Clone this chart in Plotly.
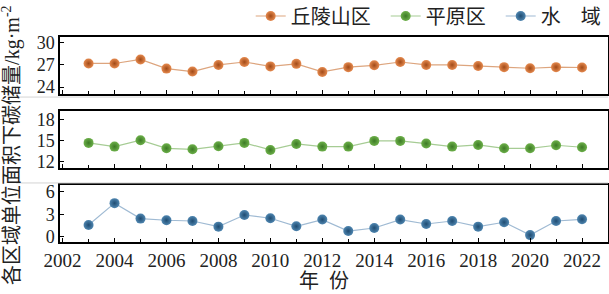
import plotly.graph_objects as go

years = list(range(2003, 2023))
hilly = [27.2, 27.2, 27.75, 26.5, 26.1, 27.0, 27.4, 26.8, 27.15, 26.05,
         26.7, 26.95, 27.4, 27.0, 27.0, 26.85, 26.7, 26.55, 26.7, 26.65]
plain = [14.67, 14.14, 15.05, 13.9, 13.76, 14.2, 14.67, 13.67, 14.52, 14.14,
         14.14, 14.95, 14.95, 14.57, 14.14, 14.38, 13.9, 13.9, 14.33, 14.05]
water = [1.57, 4.48, 2.42, 2.2, 2.1, 1.35, 2.9, 2.47, 1.39, 2.29,
         0.76, 1.17, 2.29, 1.7, 2.1, 1.35, 1.93, 0.22, 2.1, 2.33]
names = ["丘陵山区\u2002", "平原区\u2002", "水\u3000域"]
y_ticks = [[24, 27, 30], [12, 15, 18], [0, 3, 6]]
y_ranges = [[23.05, 30.8], [11.1, 19.2], [-0.7, 6.9]]
x_title = "年\u2002份"
y_title = "各区域单位面积下碳储量/kg·m<sup>-2</sup>"

marker_colors = ["#E58A4F", "#6DB04A", "#4F86B0"]
edge_colors = ["#A24A17", "#3C7A25", "#1F4C72"]
line_colors = ["#DDA57E", "#A6CC94", "#9FBAD3"]

serif = "Liberation Serif, Noto Sans CJK SC, serif"

fig = go.Figure()
series = [hilly, plain, water]
for i, vals in enumerate(series):
    sfx = "" if i == 0 else str(i + 1)
    fig.add_trace(go.Scatter(
        x=years, y=vals, name=names[i], mode="lines+markers",
        xaxis="x" + sfx, yaxis="y" + sfx,
        line=dict(color=line_colors[i], width=1.2),
        marker=dict(size=10, color=marker_colors[i],
                    gradient=dict(type="radial", color=edge_colors[i]),
                    line=dict(width=0)),
    ))

domains = [[0.722, 1.0], [0.361, 0.639], [0.0, 0.278]]
layout = dict(
    width=609, height=294,
    margin=dict(l=60, r=1, t=37, b=52, autoexpand=False),
    paper_bgcolor="white", plot_bgcolor="white",
    showlegend=True,
    legend=dict(orientation="h", x=0.348, xanchor="left", xref="paper",
                y=1 - 16 / 294, yanchor="middle", yref="container",
                font=dict(family=serif, size=20, color="#222"),
                bgcolor="rgba(0,0,0,0)", itemwidth=30, tracegroupgap=0),
    font=dict(family=serif, size=18, color="#222"),
)
for i in range(3):
    sfx = "" if i == 0 else str(i + 1)
    layout["xaxis" + sfx] = dict(
        domain=[0, 1], anchor="y" + sfx, range=[2001.9, 2023],
        tick0=2002, dtick=2, ticks="inside", ticklen=4, tickwidth=1.2, tickcolor="black",
        minor=dict(dtick=1, ticks="inside", ticklen=3, tickwidth=1, tickcolor="black"),
        showline=True, mirror=True, linecolor="black", linewidth=1.5,
        showgrid=False, zeroline=False,
        showticklabels=(i == 2),
        tickfont=dict(family=serif, size=19, color="#222"),
    )
    layout["yaxis" + sfx] = dict(
        domain=domains[i], anchor="x" + sfx, range=y_ranges[i],
        tickvals=y_ticks[i], ticks="inside", ticklen=4, tickwidth=1.2, tickcolor="black",
        showline=True, mirror=True, linecolor="black", linewidth=1.5,
        showgrid=False, zeroline=False,
        tickfont=dict(family=serif, size=18, color="#222"),
    )
fig.update_layout(**layout)

fig.add_annotation(text=y_title, xref="paper", yref="paper", x=-0.089, y=0.47,
                   textangle=-90, showarrow=False, xanchor="center", yanchor="middle",
                   font=dict(family=serif, size=20, color="#222"))
fig.add_annotation(text=x_title, xref="paper", yref="paper", x=0.482, y=-0.19,
                   showarrow=False, xanchor="center", yanchor="middle",
                   font=dict(family=serif, size=20, color="#222"))
for yp in [0.707, 0.288]:
    fig.add_shape(type="line", xref="paper", yref="paper", x0=-0.08, x1=1.0, y0=yp, y1=yp,
                  line=dict(color="#d4d4d4", width=1))

fig.write_html("out.html", config={"displayModeBar": False},
               post_script="document.body.style.margin='0';document.body.style.overflow='hidden';")
